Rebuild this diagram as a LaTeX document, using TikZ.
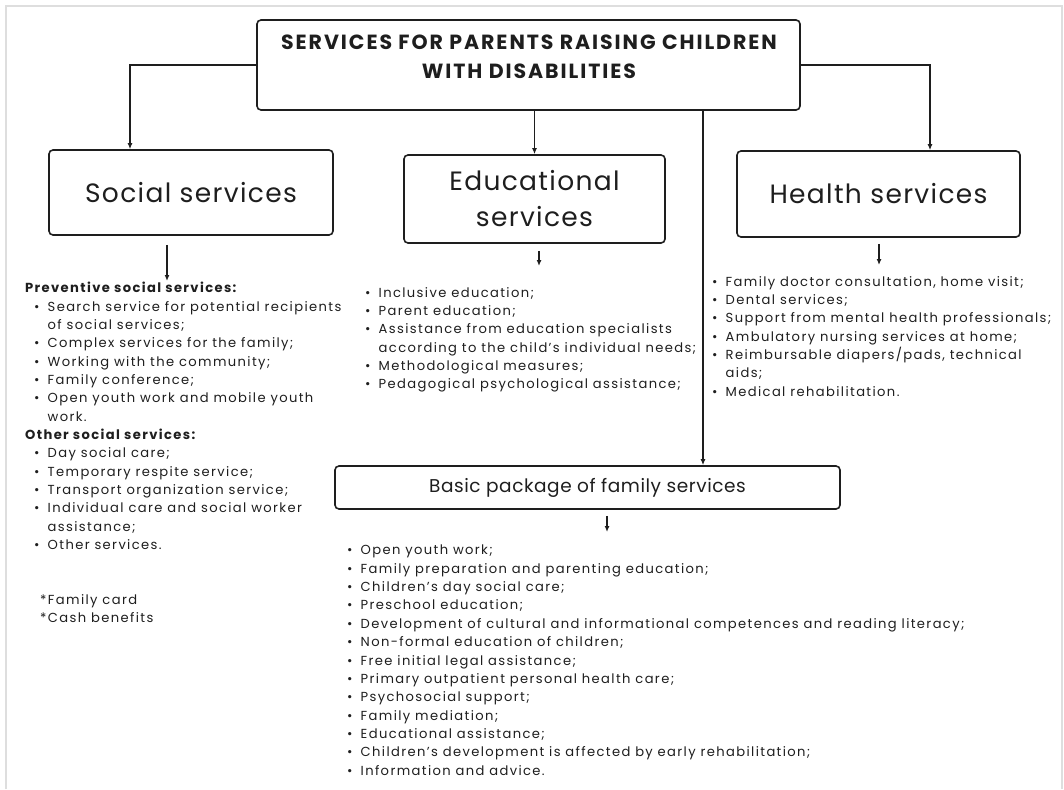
\documentclass[tikz,border=0pt]{standalone}
\usepackage{fontspec}
\setmainfont{Poppins}
\usetikzlibrary{arrows.meta,positioning}

\definecolor{ink}{HTML}{1E1E1E}
\definecolor{framegray}{HTML}{DEDEDE}

\tikzset{
  svcbox/.style={draw=ink,line width=1.6pt,rounded corners=4pt,inner sep=0pt},
  boxtext/.style={align=center,text=ink,font=\fontsize{26.5}{36}\selectfont\addfontfeatures{LetterSpace=5}},
  headtext/.style={align=center,text=ink,inner sep=0pt,font=\bfseries\fontsize{20.5}{29.5}\selectfont\addfontfeatures{LetterSpace=9.5}},
  arr/.style={-{Latex[length=6pt,width=5pt]},line width=1.4pt,draw=ink},
  lst/.style={anchor=north west,align=left,inner sep=0pt,text=ink,font=\fontsize{13.1}{18.35}\selectfont\addfontfeatures{LetterSpace=10.5}},
}
% bullet and hanging indent for the lists
\newcommand{\itm}{\makebox[13.5pt][l]{\textbullet}}
\newcommand{\cnt}{\hspace*{13.5pt}}
\newcommand{\hd}[1]{\hspace*{-9pt}\textbf{#1}}

\begin{document}
\begin{tikzpicture}[x=1pt,y=-1pt]
\useasboundingbox (0,0) rectangle (1064,789);
\draw[framegray,line width=1.5pt] (6,789) -- (6,6) -- (1062,6) -- (1062,789);

% main boxes
\node[svcbox,minimum width=543pt,minimum height=90pt] (title) at (528.5,65) {};
\node[headtext] (titletext) at (529,57) {SERVICES FOR PARENTS RAISING CHILDREN\\WITH DISABILITIES};
\node[svcbox,boxtext,minimum width=284pt,minimum height=85pt] (social) at (191,192.5) {Social services};
\node[svcbox,boxtext,minimum width=261pt,minimum height=88pt] (edu) at (534.5,199) {Educational\\services};
\node[svcbox,boxtext,minimum width=283pt,minimum height=86pt] (health) at (878.5,194) {Health services};
\node[svcbox,boxtext,font=\fontsize{18.5}{20}\selectfont\addfontfeatures{LetterSpace=3},minimum width=505pt,minimum height=43pt] (basic) at (587.5,487.5) {Basic package of family services};

% connectors from the title
\draw[arr] (title.west) -| ([xshift=-61pt]social.north);
\draw[arr] (title.south -| edu.north) -- (edu.north);
\draw[arr] (title.east) -| ([xshift=51.5pt]health.north);
\draw[arr] ([xshift=174.5pt]title.south) coordinate (tap) -- (tap |- basic.north);

% short arrows down to the lists
\coordinate (soctip) at (167,281);
\coordinate (edutip) at (539,266);
\coordinate (healthtip) at (879,265);
\coordinate (basictip) at (607,532);
\draw[arr,shorten <=9pt] (social.south -| soctip) -- (soctip);
\draw[arr,shorten <=7pt] (edu.south -| edutip) -- (edutip);
\draw[arr,shorten <=6pt] (health.south -| healthtip) -- (healthtip);
\draw[arr,shorten <=6pt] (basic.south -| basictip) -- (basictip);

% lists
\node[lst] (soclist) at (34,282) {\hd{Preventive social services:}\\
\itm Search service for potential recipients\\
\cnt of social services;\\
\itm Complex services for the family;\\
\itm Working with the community;\\
\itm Family conference;\\
\itm Open youth work and mobile youth\\
\cnt work.\\
\hd{Other social services:}\\
\itm Day social care;\\
\itm Temporary respite service;\\
\itm Transport organization service;\\
\itm Individual care and social worker\\
\cnt assistance;\\
\itm Other services.};
\node[lst] (extras) at (40,594) {*Family card\\*Cash benefits};

\node[lst] (edulist) at (365,287) {\itm Inclusive education;\\
\itm Parent education;\\
\itm Assistance from education specialists\\
\cnt according to the child's individual needs;\\
\itm Methodological measures;\\
\itm Pedagogical psychological assistance;};

\node[lst] (healthlist) at (712,276) {\itm Family doctor consultation, home visit;\\
\itm Dental services;\\
\itm Support from mental health professionals;\\
\itm Ambulatory nursing services at home;\\
\itm Reimbursable diapers/pads, technical\\
\cnt aids;\\
\itm Medical rehabilitation.};

\node[lst] (basiclist) at (347,545) {\itm Open youth work;\\
\itm Family preparation and parenting education;\\
\itm Children's day social care;\\
\itm Preschool education;\\
\itm Development of cultural and informational competences and reading literacy;\\
\itm Non-formal education of children;\\
\itm Free initial legal assistance;\\
\itm Primary outpatient personal health care;\\
\itm Psychosocial support;\\
\itm Family mediation;\\
\itm Educational assistance;\\
\itm Children's development is affected by early rehabilitation;\\
\itm Information and advice.};
\end{tikzpicture}
\end{document}
